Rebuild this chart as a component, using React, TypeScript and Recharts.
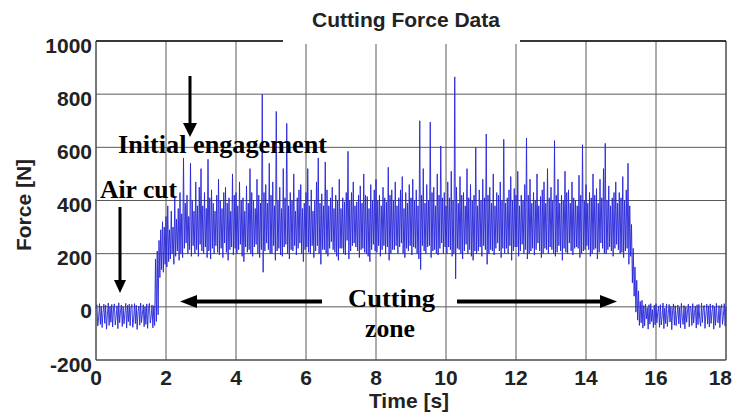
import React from 'react'
import {
  LineChart,
  Line,
  XAxis,
  YAxis,
  CartesianGrid,
  ReferenceLine,
} from 'recharts'

// sampling step of the force record [s]
const DT = 0.025

// force samples [N], one row per half second (20 samples each)
const FORCE = [
  -5, 8, -72, -40, 12, -66, 3, -78, -20, 10, -62, 6, -84, -30, 14, -70, 2, -58, 9, -76,
  -8, 11, -68, -35, 4, -82, 15, -60, -15, 7, -74, 1, -64, -25, 13, -80, 5, -56, 10, -71,
  -2, 9, -77, -45, 12, -63, 6, -85, -18, 3, -69, 14, -59, -28, 8, -75, 0, -66, 11, -81,
  -6, 13, -61, -38, 7, -79, 4, -70, 180, -55, 210, -30, 250, 110, 290, 140, 320, 130, 300, 160,
  340, 150, 380, 170, 290, 180, 360, 200, 300, 160, 410, 190, 330, 210, 370, 175, 430, 200, 350, 185,
  560, 220, 390, 240, 420, 200, 340, 215, 540, 190, 400, 230, 360, 200, 470, 215, 380, 190, 450, 235,
  520, 210, 380, 200, 430, 225, 370, 185, 555, 210, 410, 180, 440, 220, 390, 200, 360, 230, 420, 205,
  480, 195, 400, 220, 370, 185, 430, 240, 450, 205, 390, 175, 410, 215, 360, 225, 500, 195, 420, 220,
  430, 200, 380, 215, 470, 235, 400, 190, 410, 170, 360, 225, 455, 205, 390, 215, 520, 200, 430, 190,
  400, 225, 370, 235, 480, 200, 420, 185, 390, 215, 800, 130, 430, 210, 460, 240, 390, 215, 540, 200,
  420, 200, 470, 230, 380, 175, 735, 210, 400, 220, 450, 195, 370, 190, 520, 225, 410, 235, 690, 200,
  380, 180, 430, 215, 400, 210, 500, 230, 360, 195, 410, 220, 440, 240, 460, 200, 370, 170, 390, 215,
  430, 225, 520, 205, 380, 200, 440, 230, 360, 185, 400, 210, 470, 230, 560, 200, 390, 160, 425, 215,
  380, 215, 545, 200, 440, 190, 380, 220, 410, 245, 450, 215, 370, 205, 420, 190, 400, 175, 480, 220,
  370, 220, 410, 200, 395, 195, 430, 250, 585, 180, 400, 210, 430, 230, 470, 240, 380, 225, 395, 210,
  420, 185, 455, 215, 390, 220, 500, 205, 420, 200, 415, 190, 370, 170, 460, 215, 400, 235, 440, 210,
  480, 205, 400, 230, 420, 190, 380, 215, 450, 230, 410, 200, 395, 225, 525, 175, 420, 200, 440, 215,
  400, 215, 470, 230, 380, 200, 410, 225, 440, 240, 490, 200, 370, 185, 430, 220, 390, 210, 460, 230,
  410, 195, 480, 225, 400, 220, 440, 200, 380, 180, 700, 140, 420, 230, 520, 210, 390, 200, 460, 225,
  400, 230, 695, 185, 430, 210, 450, 215, 380, 200, 500, 195, 420, 220, 605, 240, 410, 200, 430, 225,
  380, 200, 470, 225, 410, 215, 510, 190, 400, 200, 865, 105, 450, 220, 390, 215, 490, 200, 420, 180,
  430, 210, 380, 235, 520, 200, 410, 215, 460, 190, 400, 175, 420, 210, 600, 200, 380, 210, 440, 225,
  400, 190, 480, 230, 410, 215, 650, 160, 420, 200, 450, 215, 390, 210, 500, 195, 380, 220, 430, 240,
  420, 210, 470, 185, 400, 220, 630, 200, 390, 220, 410, 200, 440, 230, 490, 175, 400, 210, 445, 225,
  420, 225, 510, 190, 380, 210, 420, 235, 400, 200, 460, 215, 635, 180, 420, 200, 480, 210, 390, 220,
  430, 195, 400, 215, 500, 240, 380, 210, 415, 185, 440, 200, 470, 220, 390, 215, 520, 200, 410, 225,
  450, 215, 400, 200, 625, 190, 420, 205, 480, 230, 390, 210, 420, 175, 400, 220, 510, 205, 430, 200,
  440, 240, 390, 210, 470, 195, 410, 220, 400, 225, 380, 220, 495, 185, 420, 200, 610, 210, 400, 215,
  460, 230, 390, 215, 430, 190, 410, 200, 500, 215, 420, 220, 445, 180, 390, 205, 480, 240, 410, 220,
  520, 200, 615, 200, 400, 215, 455, 225, 380, 210, 410, 190, 430, 220, 470, 235, 390, 215, 430, 200,
  410, 205, 490, 185, 400, 210, 440, 220, 540, 160, 380, 190, 310, 90, 220, 40, 150, -20, 100, -50,
  60, -70, 20, -60, 25, -80, 5, -72, 10, -45, -3, -84, 8, -65, 12, -55, -10, -78, 6, -68,
  12, -60, -20, 3, -77, 8, -68, -35, 14, -82, -5, -63, 11, -74, -25, 9, -57, 1, -86, -12,
  11, -69, 4, -71, -30, 7, -64, -2, -79, 13, -40, -66, 5, -83, 0, -58, -15, 10, -75, 2,
  -6, -70, 12, -61, -22, 3, -80, 8, -67, 9, -48, -73, 14, -59, -8, 6, -81, -27, 10, -65,
  4, -76, 11, -62, -18, 7, -84, 0, -69, 13, -52, -60, 5, -78, -4, 9, -66, -33, 12, -72,
  0,
]

const X_TICKS = [0, 2, 4, 6, 8, 10, 12, 14, 16, 18]
const Y_TICKS = [-200, 0, 200, 400, 600, 800, 1000]

const data = FORCE.map((f, i) => ({ t: +(i * DT).toFixed(3), f }))

const SANS = 'Liberation Sans, Arial, sans-serif'
const SERIF = 'Liberation Serif, Times New Roman, serif'

const XTick = (props: any) => {
  const last = props.payload.value === X_TICKS[X_TICKS.length - 1]
  return (
    <text
      x={last ? props.x + 6 : props.x}
      y={props.y + 17}
      textAnchor={last ? 'end' : 'middle'}
      fontFamily={SANS}
      fontWeight="bold"
      fontSize={21}
      fill="#222"
    >
      {props.payload.value}
    </text>
  )
}

const YTick = (props: any) => (
  <text x={props.x} y={props.y + 11.5} textAnchor="end" fontFamily={SANS} fontWeight="bold" fontSize={21} fill="#222">
    {props.payload.value}
  </text>
)

export default function App() {
  return (
    <div style={{ position: 'absolute', left: 0, top: 0, width: 735, height: 412, background: '#fff', fontFamily: SANS }}>
      <LineChart width={735} height={412} data={data} margin={{ top: 41, right: 9, bottom: 0, left: 0 }}>
        <CartesianGrid stroke="#5a5a5a" strokeWidth={1} />
        <XAxis
          type="number"
          dataKey="t"
          domain={[0, 18]}
          ticks={X_TICKS}
          height={52}
          tickSize={0}
          tickMargin={8}
          tick={<XTick />}
          stroke="#444"
        />
        <YAxis
          type="number"
          domain={[-200, 1000]}
          ticks={Y_TICKS}
          width={96}
          tickSize={0}
          tickMargin={4}
          tick={<YTick />}
          stroke="#444"
          allowDataOverflow
        />
        <ReferenceLine x={18} stroke="#444" />
        <ReferenceLine y={1000} stroke="#111" strokeWidth={1.5} />
        <Line
          type="linear"
          dataKey="f"
          stroke="#2626d8"
          strokeWidth={0.9}
          dot={false}
          isAnimationActive={false}
        />
      </LineChart>

      {/* title, axis titles and annotations */}
      <svg width={735} height={412} style={{ position: 'absolute', left: 0, top: 0, pointerEvents: 'none' }}>
        <rect x={283} y={37} width={237} height={7} fill="#fff" />
        <text x={406} y={27} textAnchor="middle" fontFamily={SANS} fontWeight="bold" fontSize={21} fill="#222">
          Cutting Force Data
        </text>
        <text x={409} y={408} textAnchor="middle" fontFamily={SANS} fontWeight="bold" fontSize={21} fill="#222">
          Time [s]
        </text>
        <text
          transform="translate(31,205) rotate(-90)"
          textAnchor="middle"
          fontFamily={SANS}
          fontWeight="bold"
          fontSize={21}
          fill="#222"
        >
          Force [N]
        </text>

        <g fontFamily={SERIF} fontWeight="bold" fontSize={26} fill="#000">
          <text x={118} y={153} textLength={209} lengthAdjust="spacingAndGlyphs">Initial engagement</text>
          <text x={100} y={198} textLength={77} lengthAdjust="spacingAndGlyphs">Air cut</text>
          <text x={348} y={307} textLength={87} lengthAdjust="spacingAndGlyphs">Cutting</text>
          <text x={365} y={337} textLength={50} lengthAdjust="spacingAndGlyphs">zone</text>
        </g>

        <g fill="#000" stroke="#000">
          <line x1={190} y1={76} x2={190} y2={126} strokeWidth={3} />
          <polygon points="183,123 197,123 190,137" stroke="none" />
          <line x1={120} y1={207} x2={120} y2={282} strokeWidth={3} />
          <polygon points="114,280 126,280 120,293" stroke="none" />
          <line x1={194} y1={301.5} x2={322} y2={301.5} strokeWidth={4} />
          <polygon points="180,301.5 197,295 197,308" stroke="none" />
          <line x1={457} y1={301.5} x2={603} y2={301.5} strokeWidth={4} />
          <polygon points="617,301.5 600,295 600,308" stroke="none" />
        </g>
      </svg>
    </div>
  )
}
